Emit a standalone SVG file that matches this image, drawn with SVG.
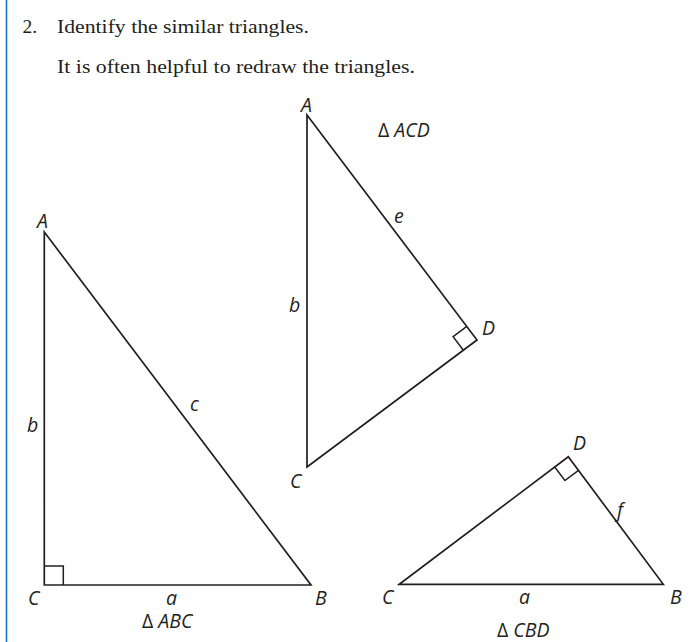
<svg xmlns="http://www.w3.org/2000/svg" width="691" height="642" viewBox="0 0 691 642">
<style>
.ln{fill:none;stroke:#231f20;stroke-width:1.7;stroke-linejoin:miter}
.sq{fill:none;stroke:#231f20;stroke-width:1.5}
.lb{font-family:"Open Sans","Liberation Sans",sans-serif;font-style:italic;font-size:19.5px;fill:#231f20}
.up{font-style:normal}
.tt{font-family:"Liberation Serif","Times New Roman",serif;font-size:19.5px;fill:#231f20}
</style>
<rect width="691" height="642" fill="#ffffff"/>
<line x1="6.5" y1="0" x2="6.5" y2="642" stroke="#1479bf" stroke-width="1.6"/>
<g id="heading">
<text class="tt" x="22.5" y="33">2.</text>
<text class="tt" x="57" y="33" textLength="252" lengthAdjust="spacingAndGlyphs">Identify the similar triangles.</text>
<text class="tt" x="57" y="73" textLength="358" lengthAdjust="spacingAndGlyphs">It is often helpful to redraw the triangles.</text>
</g>
<g id="triangle-ABC">
<polygon class="ln" points="44.3,232 44.3,585 311,585"/>
<polyline class="sq" points="44.3,566 63.3,566 63.3,585"/>
<text class="lb" x="37" y="228">A</text>
<text class="lb" x="27" y="432">b</text>
<text class="lb" x="190" y="411">c</text>
<text class="lb" x="28" y="605">C</text>
<text class="lb" x="166" y="605">a</text>
<text class="lb" x="315" y="605">B</text>
<text class="lb" x="142" y="628"><tspan class="up">∆</tspan> ABC</text>
</g>
<g id="triangle-ACD">
<polygon class="ln" points="307,115 477,340 307,467"/>
<polyline class="sq" points="466.8,326.4 453.1,336.6 463.4,350.2"/>
<text class="lb" x="301" y="112">A</text>
<text class="lb" x="378" y="137"><tspan class="up">∆</tspan> ACD</text>
<text class="lb" x="394" y="223">e</text>
<text class="lb" x="289" y="312">b</text>
<text class="lb" x="482" y="335">D</text>
<text class="lb" x="290" y="488">C</text>
</g>
<g id="triangle-CBD">
<polygon class="ln" points="399.3,584.3 568.3,456.7 663.3,584.3"/>
<polyline class="sq" points="554.7,467 564.9,480.5 578.5,470.3"/>
<text class="lb" x="573" y="450">D</text>
<text class="lb" x="617" y="517">f</text>
<text class="lb" x="382" y="604">C</text>
<text class="lb" x="519" y="604">a</text>
<text class="lb" x="670" y="604">B</text>
<text class="lb" x="497" y="637"><tspan class="up">∆</tspan> CBD</text>
</g>
<g id="connectors"></g>
</svg>
